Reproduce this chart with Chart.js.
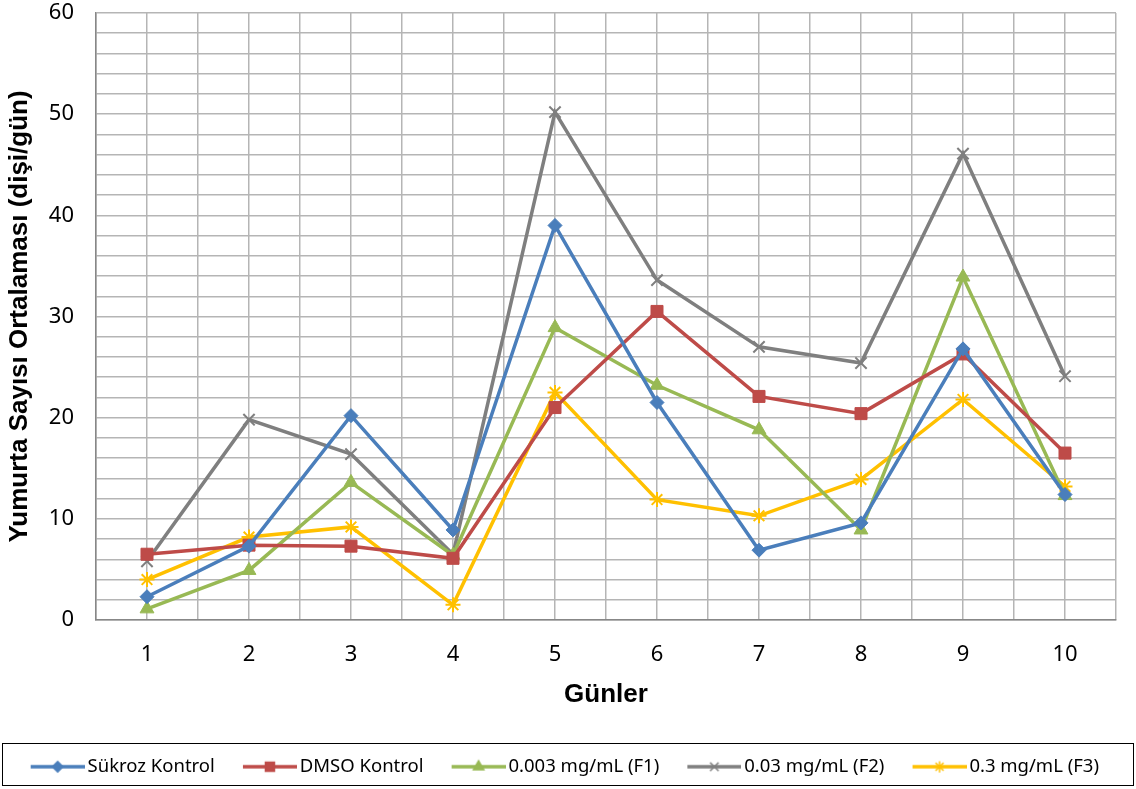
<!DOCTYPE html>
<html>
<head>
<meta charset="utf-8">
<script src="https://cdn.jsdelivr.net/npm/chart.js@4.4.0/dist/chart.umd.min.js"></script>
<style>
  html, body { margin: 0; padding: 0; background: #fff; }
  #wrap { width: 1136px; height: 789px; }
</style>
</head>
<body>
<div id="wrap"><canvas id="eggChart" width="1136" height="789"></canvas></div>
<script>
// gün etiketleri ve seriler
const days = [1, 2, 3, 4, 5, 6, 7, 8, 9, 10];
const sukrozKontrol = [2.3, 7.3, 20.2, 8.9, 39.0, 21.5, 6.9, 9.6, 26.8, 12.4];
const dmsoKontrol   = [6.5, 7.4, 7.3, 6.1, 21.0, 30.5, 22.1, 20.4, 26.3, 16.5];
const f1Values      = [1.1, 4.9, 13.6, 6.4, 28.9, 23.2, 18.8, 8.9, 33.9, 12.3];
const f2Values      = [5.8, 19.8, 16.4, 6.5, 50.2, 33.6, 27.0, 25.4, 46.1, 24.1];
const f3Values      = [4.0, 8.2, 9.2, 1.5, 22.5, 11.9, 10.3, 13.9, 21.8, 13.2];
const seriesNames = ['Sükroz Kontrol', 'DMSO Kontrol', '0.003 mg/mL (F1)', '0.03 mg/mL (F2)', '0.3 mg/mL (F3)'];

const colors = ['#4A7EBB', '#BE4B48', '#98B954', '#7F7F7F', '#FFC000'];
const markers = ['rectRot', 'rect', 'triangle', 'crossRot', 'star'];
const markerSizes = [7, 8.5, 8, 8, 7.5];

function toPoints(values) {
    return values.map((v, i) => ({ x: days[i], y: v }));
}

// legend için çizgi + işaret resmi (solda boşluk bırakılır)
function legendIcon(color, style, size) {
    const c = document.createElement('canvas');
    c.width = 74;
    c.height = 18;
    const g = c.getContext('2d');
    g.strokeStyle = color;
    g.lineWidth = 3.5;
    g.beginPath();
    g.moveTo(20, 9);
    g.lineTo(74, 9);
    g.stroke();
    g.fillStyle = color;
    g.lineWidth = 1.5;
    Chart.helpers.drawPoint(g, { pointStyle: style, radius: size * 0.75, borderWidth: 1.5, rotation: 0 }, 47, 9);
    return c;
}

const allValues = [sukrozKontrol, dmsoKontrol, f1Values, f2Values, f3Values];

const datasets = allValues.map((vals, i) => ({
    label: seriesNames[i],
    data: toPoints(vals),
    borderColor: colors[i],
    backgroundColor: colors[i],
    borderWidth: 3.5,
    pointStyle: markers[i],
    pointRadius: markerSizes[i],
    pointHoverRadius: markerSizes[i],
    pointBorderWidth: (markers[i] === 'crossRot' || markers[i] === 'star') ? 2 : 1,
    tension: 0
}));

// legend çerçevesi
const legendBorder = {
    id: 'legendBorder',
    afterDraw(chart) {
        const lg = chart.legend;
        const ctx = chart.ctx;
        ctx.save();
        ctx.strokeStyle = '#000';
        ctx.lineWidth = 1;
        ctx.strokeRect(2.5, lg.top + 0.5, 1131, lg.bottom - lg.top - 1);
        ctx.restore();
    }
};

const gridColor = '#B5B5B5';
const axisColor = '#878787';

const ctx = document.getElementById('eggChart').getContext('2d');
const eggChart = new Chart(ctx, {
    type: 'line',
    data: { datasets: datasets },
    options: {
        responsive: false,
        animation: false,
        layout: { padding: { left: 0, right: 20, top: 13, bottom: 3 } },
        plugins: {
            tooltip: { enabled: false },
            legend: {
                position: 'bottom',
                labels: {
                    usePointStyle: true,
                    pointStyleWidth: 61.25,
                    padding: 14.5,
                    color: '#000',
                    font: { family: 'Noto Sans', size: 18.5 },
                    generateLabels(chart) {
                        return chart.data.datasets.map((ds, i) => ({
                            text: ds.label,
                            fillStyle: colors[i],
                            strokeStyle: colors[i],
                            pointStyle: legendIcon(colors[i], markers[i], markerSizes[i]),
                            datasetIndex: i,
                            fontColor: '#000',
                            lineWidth: 0
                        }));
                    }
                }
            }
        },
        scales: {
            x: {
                type: 'linear',
                min: 0.5,
                max: 10.5,
                afterFit(scale) {
                    scale.height = 123;
                    scale.paddingLeft = 0;
                    scale.paddingRight = 0;
                },
                ticks: {
                    stepSize: 0.5,
                    autoSkip: false,
                    maxRotation: 0,
                    padding: 22,
                    color: '#000',
                    font: { family: 'Noto Sans', size: 22 },
                    callback: v => Number.isInteger(v) ? String(v) : ''
                },
                grid: { color: gridColor, lineWidth: 1.5, drawTicks: false },
                border: { color: axisColor, width: 1.5 },
                title: {
                    display: true,
                    text: 'Günler',
                    color: '#000',
                    font: { family: 'Liberation Sans', size: 26, weight: 'bold' },
                    padding: { top: 0, bottom: 33 }
                }
            },
            y: {
                min: 0,
                max: 60,
                afterFit(scale) {
                    scale.width = 96;
                    scale.paddingTop = 0;
                    scale.paddingBottom = 0;
                },
                ticks: {
                    stepSize: 2,
                    autoSkip: false,
                    padding: 22,
                    color: '#000',
                    font: { family: 'Noto Sans', size: 22 },
                    callback: v => v % 10 === 0 ? String(v) : ''
                },
                grid: { color: gridColor, lineWidth: 1.5, drawTicks: false },
                border: { color: axisColor, width: 1.5 },
                title: {
                    display: true,
                    text: 'Yumurta Sayısı Ortalaması (dişi/gün)',
                    color: '#000',
                    font: { family: 'Liberation Sans', size: 26, weight: 'bold' },
                    padding: { top: 4, bottom: 0 }
                }
            }
        }
    },
    plugins: [legendBorder]
});
</script>
</body>
</html>
